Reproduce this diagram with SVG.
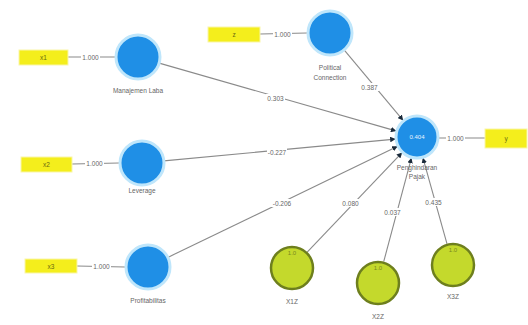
<svg xmlns="http://www.w3.org/2000/svg" width="528" height="325" viewBox="0 0 528 325">
<style>
.lv{fill:#1f8fe6;stroke:#bfe6fb;stroke-width:3}
.mod{fill:#c4d92c;stroke:#6e7f1e;stroke-width:2.5}
.ind{fill:#f4ee1c;stroke:#f9f6a8;stroke-width:1}
.edge{stroke:#8a8a8a;stroke-width:1.1;fill:none}
.lbl{font-family:"Liberation Sans",Arial,sans-serif;font-size:6.5px;fill:#666;text-anchor:middle}
.in{font-family:"Liberation Sans",Arial,sans-serif;font-size:6px;fill:#e8f4ff;text-anchor:middle}
.ina{font-family:"Liberation Sans",Arial,sans-serif;font-size:6px;fill:#7a8a20;text-anchor:middle}
.itx{font-family:"Liberation Sans",Arial,sans-serif;font-size:6.5px;fill:#6a6a10;text-anchor:middle}
.bg{fill:#ffffff}
</style>
<defs>
<marker id="arr" viewBox="0 0 10 10" refX="9" refY="5" markerWidth="5" markerHeight="5" orient="auto">
<path d="M0,0 L10,5 L0,10 z" fill="#1a2a3a"/>
</marker>
</defs>
<rect width="528" height="325" fill="#ffffff"/>
<g id="connectors">
<line class="edge" x1="68" y1="57" x2="115" y2="57"/>
<line class="edge" x1="260" y1="34" x2="307" y2="33"/>
<line class="edge" x1="72" y1="164" x2="119" y2="163"/>
<line class="edge" x1="77" y1="266" x2="125" y2="267"/>
<line class="edge" x1="439" y1="138" x2="485" y2="138"/>
<line class="edge" x1="159.2" y1="63.1" x2="395.8" y2="130.9" marker-end="url(#arr)"/>
<line class="edge" x1="344.1" y1="49.9" x2="402.9" y2="120.1" marker-end="url(#arr)"/>
<line class="edge" x1="163.9" y1="160.9" x2="395.1" y2="139.1" marker-end="url(#arr)"/>
<line class="edge" x1="167.8" y1="257.4" x2="397.2" y2="146.6" marker-end="url(#arr)"/>
<line class="edge" x1="307.2" y1="252.1" x2="401.8" y2="152.9" marker-end="url(#arr)"/>
<line class="edge" x1="383.7" y1="261.7" x2="411.3" y2="158.3" marker-end="url(#arr)"/>
<line class="edge" x1="447" y1="243.8" x2="423" y2="158.2" marker-end="url(#arr)"/>
<rect class="bg" x="81" y="53" width="19" height="8"/><text class="lbl" x="90.5" y="59.5">1.000</text>
<rect class="bg" x="273" y="30" width="19" height="8"/><text class="lbl" x="282.5" y="36.5">1.000</text>
<rect class="bg" x="85" y="159.5" width="19" height="8"/><text class="lbl" x="94.5" y="166">1.000</text>
<rect class="bg" x="92" y="262.5" width="19" height="8"/><text class="lbl" x="101.5" y="269">1.000</text>
<rect class="bg" x="446" y="134" width="19" height="8"/><text class="lbl" x="455.5" y="140.5">1.000</text>
<rect class="bg" x="266" y="94" width="19" height="8"/><text class="lbl" x="275.5" y="100.5">0.303</text>
<rect class="bg" x="360" y="83" width="19" height="8"/><text class="lbl" x="369.5" y="89.5">0.387</text>
<rect class="bg" x="267" y="148" width="20" height="8"/><text class="lbl" x="277" y="154.5">-0.227</text>
<rect class="bg" x="271" y="199" width="22" height="8"/><text class="lbl" x="282" y="205.5">-0.206</text>
<rect class="bg" x="341" y="199" width="19" height="8"/><text class="lbl" x="350.5" y="205.5">0.080</text>
<rect class="bg" x="383" y="208" width="19" height="8"/><text class="lbl" x="392.5" y="214.5">0.037</text>
<rect class="bg" x="424" y="198" width="19" height="8"/><text class="lbl" x="433.5" y="204.5">0.435</text>
</g>
<g id="ind-x1"><rect class="ind" x="19" y="50" width="49" height="15"/><text class="itx" x="43.5" y="60">x1</text></g>
<g id="ind-z"><rect class="ind" x="208" y="27" width="52" height="15"/><text class="itx" x="234" y="37">z</text></g>
<g id="ind-x2"><rect class="ind" x="21" y="157" width="51" height="15"/><text class="itx" x="46.5" y="167">x2</text></g>
<g id="ind-x3"><rect class="ind" x="25" y="259" width="52" height="14"/><text class="itx" x="51" y="268.5">x3</text></g>
<g id="ind-y"><rect class="ind" x="485" y="129" width="42" height="19"/><text class="itx" x="506" y="141">y</text></g>
<g id="node-manajemen"><circle class="lv" cx="138" cy="57" r="22"/><text class="lbl" x="138" y="93">Manajemen Laba</text></g>
<g id="node-political"><circle class="lv" cx="330" cy="33" r="22"/><text class="lbl" x="330" y="70">Political</text><text class="lbl" x="330" y="80">Connection</text></g>
<g id="node-leverage"><circle class="lv" cx="142" cy="163" r="22"/><text class="lbl" x="142" y="193">Leverage</text></g>
<g id="node-profit"><circle class="lv" cx="148" cy="267" r="22"/><text class="lbl" x="148" y="303">Profitabilitas</text></g>
<g id="node-pajak"><circle class="lv" cx="417" cy="137" r="21"/><text class="in" x="417" y="139">0.404</text><text class="lbl" x="417" y="170">Penghindaran</text><text class="lbl" x="417" y="179">Pajak</text></g>
<g id="node-x1z"><circle class="mod" cx="292" cy="268" r="21"/><text class="ina" x="292" y="255">1.0</text><text class="lbl" x="292" y="304">X1Z</text></g>
<g id="node-x2z"><circle class="mod" cx="378" cy="283" r="21"/><text class="ina" x="378" y="270">1.0</text><text class="lbl" x="378" y="319">X2Z</text></g>
<g id="node-x3z"><circle class="mod" cx="453" cy="265" r="21"/><text class="ina" x="453" y="252">1.0</text><text class="lbl" x="453" y="299">X3Z</text></g>
</svg>
